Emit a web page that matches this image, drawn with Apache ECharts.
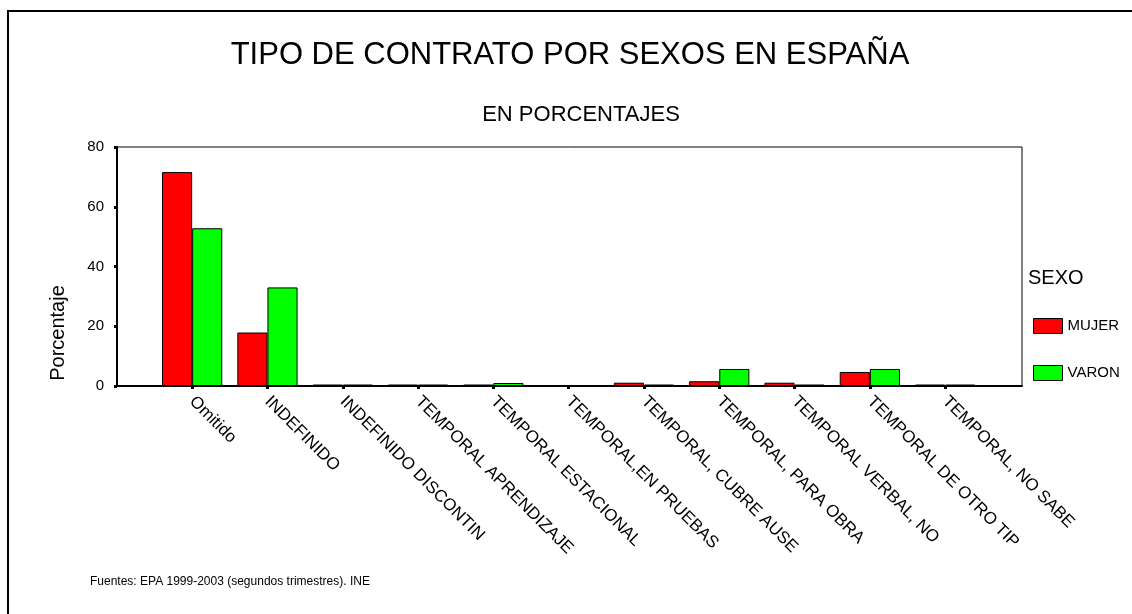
<!DOCTYPE html>
<html>
<head>
<meta charset="utf-8">
<title>Tipo de contrato por sexos en España</title>
<script src="https://cdn.jsdelivr.net/npm/echarts@6/dist/echarts.min.js"></script>
<style>
  html, body { margin: 0; padding: 0; background: #fff; }
  #chart { width: 1132px; height: 614px; }
</style>
</head>
<body>
<div id="chart"></div>
<script>
// Contract types (EPA, second quarters 1999-2003), share of each sex in percent
const categories = [
  'Omitido',
  'INDEFINIDO',
  'INDEFINIDO DISCONTIN',
  'TEMPORAL APRENDIZAJE',
  'TEMPORAL ESTACIONAL',
  'TEMPORAL,EN PRUEBAS',
  'TEMPORAL, CUBRE AUSE',
  'TEMPORAL, PARA OBRA',
  'TEMPORAL VERBAL, NO',
  'TEMPORAL DE OTRO TIP',
  'TEMPORAL, NO SABE'
];
const mujer = [71.6, 17.9, 0.5, 0.5, 0.5, 0, 1.1, 1.6, 1.1, 4.7, 0.5];
const varon = [52.8, 33.0, 0.5, 0.5, 1.0, 0, 0.5, 5.7, 0.5, 5.7, 0.5];
const seriesNames = ['MUJER', 'VARON'];
const yTicks = { min: 0, max: 80, interval: 20 };

const FONT = '"Liberation Sans", Arial, Helvetica, sans-serif';

const chart = echarts.init(document.getElementById('chart'), null, { renderer: 'canvas' });

const option = {
  animation: false,
  backgroundColor: '#ffffff',
  textStyle: { fontFamily: FONT, color: '#000' },
  grid: [
    // outer plot frame carrying the value axis
    { left: 117, right: 110, top: 147, bottom: 228, show: true, borderColor: '#000', borderWidth: 1, backgroundColor: 'transparent' },
    // inner band where the category bars sit
    { left: 154.5, width: 828.3, top: 147, bottom: 228 }
  ],
  xAxis: [
    {
      gridIndex: 0, type: 'value', min: 0, max: 1,
      axisLine: { show: true, lineStyle: { color: '#000', width: 2 } },
      axisTick: { show: false }, axisLabel: { show: false }, splitLine: { show: false }
    },
    {
      gridIndex: 1, type: 'category', data: categories, boundaryGap: true,
      axisLine: { show: false },
      axisTick: { show: true, alignWithLabel: true, length: 3, lineStyle: { color: '#000', width: 3 } },
      axisLabel: { rotate: -45, fontSize: 17, color: '#000', fontFamily: FONT, margin: 13, interval: 0 },
      splitLine: { show: false }
    }
  ],
  yAxis: [
    {
      gridIndex: 0, type: 'value', min: yTicks.min, max: yTicks.max, interval: yTicks.interval,
      axisLine: { show: true, lineStyle: { color: '#000', width: 2 } },
      axisTick: { show: true, length: 3, lineStyle: { color: '#000', width: 3 } },
      axisLabel: { fontSize: 15, color: '#000', fontFamily: FONT, margin: 13 },
      splitLine: { show: false }
    },
    {
      gridIndex: 1, type: 'value', min: yTicks.min, max: yTicks.max, show: false,
      splitLine: { show: false }
    }
  ],
  legend: {
    orient: 'vertical',
    left: 1033, top: 318, padding: 0,
    itemWidth: 29, itemHeight: 15, itemGap: 31,
    icon: 'rect',
    textStyle: { fontSize: 15, color: '#000', fontFamily: FONT },
    itemStyle: { borderColor: '#000', borderWidth: 1 },
    data: seriesNames
  },
  series: [
    {
      name: seriesNames[0], type: 'bar', xAxisIndex: 1, yAxisIndex: 1,
      data: mujer, barGap: '0%', barCategoryGap: '20%',
      itemStyle: { color: '#ff0000', borderColor: '#000', borderWidth: 1 }
    },
    {
      name: seriesNames[1], type: 'bar', xAxisIndex: 1, yAxisIndex: 1,
      data: varon, barGap: '0%', barCategoryGap: '20%',
      itemStyle: { color: '#00ff00', borderColor: '#000', borderWidth: 1 }
    }
  ],
  graphic: [
    { type: 'rect', shape: { x: 8, y: 11, width: 2000, height: 2000 }, style: { fill: 'none', stroke: '#000', lineWidth: 2 }, silent: true },
    { type: 'text', x: 570, y: 55, style: { text: 'TIPO DE CONTRATO POR SEXOS EN ESPAÑA', font: '31px ' + FONT, fill: '#000', align: 'center', verticalAlign: 'middle' } },
    { type: 'text', x: 581, y: 115, style: { text: 'EN PORCENTAJES', font: '22px ' + FONT, fill: '#000', align: 'center', verticalAlign: 'middle' } },
    { type: 'text', x: 58, y: 333, rotation: Math.PI / 2, style: { text: 'Porcentaje', font: '20px ' + FONT, fill: '#000', align: 'center', verticalAlign: 'middle' } },
    { type: 'text', x: 1028, y: 278, style: { text: 'SEXO', font: '20px ' + FONT, fill: '#000', align: 'left', verticalAlign: 'middle' } },
    { type: 'text', x: 90, y: 582, style: { text: 'Fuentes: EPA 1999-2003 (segundos trimestres). INE', font: '12px ' + FONT, fill: '#000', align: 'left', verticalAlign: 'middle' } }
  ]
};

chart.setOption(option);
</script>
</body>
</html>
